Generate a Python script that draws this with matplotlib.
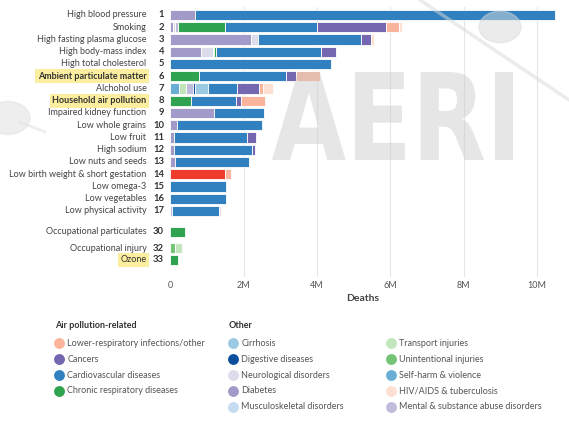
import matplotlib.pyplot as plt
import matplotlib.transforms as mtransforms
from matplotlib.lines import Line2D
from matplotlib.patches import Circle, PathPatch
from matplotlib.textpath import TextPath
from matplotlib.font_manager import FontProperties

plt.rcParams['font.family'] = ['Lato', 'DejaVu Sans']

# risk factors, top to bottom
risk_names = ['High blood pressure', 'Smoking', 'High fasting plasma glucose',
              'High body-mass index', 'High total cholesterol',
              'Ambient particulate matter', 'Alchohol use', 'Household air pollution',
              'Impaired kidney function', 'Low whole grains', 'Low fruit',
              'High sodium', 'Low nuts and seeds', 'Low birth weight & short gestation',
              'Low omega-3', 'Low vegetables', 'Low physical activity',
              'Occupational particulates', 'Occupational injury', 'Ozone']
risk_ranks = [1, 2, 3, 4, 5, 6, 7, 8, 9, 10, 11, 12, 13, 14, 15, 16, 17, 30, 32, 33]
highlighted = ['Ambient particulate matter', 'Household air pollution', 'Ozone']

# attributable deaths (millions) by cause, left to right in each bar
segments = [
    [('Diabetes', 0.67), ('Cardiovascular diseases', 9.81)],
    [('Diabetes', 0.07), ('Neurological disorders', 0.07), ('Mental & substance abuse disorders', 0.06),
     ('Chronic respiratory diseases', 1.30), ('Cardiovascular diseases', 2.50), ('Cancers', 1.89),
     ('Lower-respiratory infections/other', 0.33), ('HIV/AIDS & tuberculosis', 0.09)],
    [('Diabetes', 2.20), ('Neurological disorders', 0.19), ('Cardiovascular diseases', 2.82),
     ('Cancers', 0.27), ('HIV/AIDS & tuberculosis', 0.08)],
    [('Diabetes', 0.85), ('Neurological disorders', 0.32), ('Transport injuries', 0.03),
     ('Chronic respiratory diseases', 0.05), ('Cardiovascular diseases', 2.87), ('Cancers', 0.40)],
    [('Cardiovascular diseases', 4.39)],
    [('Chronic respiratory diseases', 0.78), ('Cardiovascular diseases', 2.38), ('Cancers', 0.27),
     ('Lower-respiratory infections/other', 0.65)],
    [('Self-harm & violence', 0.23), ('Transport injuries', 0.21), ('Mental & substance abuse disorders', 0.18),
     ('Digestive diseases', 0.05), ('Cirrhosis', 0.35), ('Cardiovascular diseases', 0.80), ('Cancers', 0.61),
     ('Lower-respiratory infections/other', 0.10), ('HIV/AIDS & tuberculosis', 0.28)],
    [('Chronic respiratory diseases', 0.57), ('Cardiovascular diseases', 1.21), ('Cancers', 0.16),
     ('Lower-respiratory infections/other', 0.64)],
    [('Diabetes', 1.18), ('Cardiovascular diseases', 1.37)],
    [('Diabetes', 0.17), ('Cardiovascular diseases', 2.32)],
    [('Diabetes', 0.11), ('Cardiovascular diseases', 1.99), ('Cancers', 0.24)],
    [('Diabetes', 0.10), ('Cardiovascular diseases', 2.12), ('Cancers', 0.08)],
    [('Diabetes', 0.13), ('Cardiovascular diseases', 2.01)],
    [('Neonatal disorders', 1.50), ('Lower-respiratory infections/other', 0.16)],
    [('Cardiovascular diseases', 1.52)],
    [('Cardiovascular diseases', 1.51)],
    [('Mental & substance abuse disorders', 0.04), ('Cardiovascular diseases', 1.29),
     ('Neurological disorders', 0.05)],
    [('Chronic respiratory diseases', 0.41)],
    [('Unintentional injuries', 0.12), ('Transport injuries', 0.21)],
    [('Chronic respiratory diseases', 0.22)],
]

legend_air = ['Lower-respiratory infections/other', 'Cancers', 'Cardiovascular diseases',
              'Chronic respiratory diseases']
legend_other1 = ['Cirrhosis', 'Digestive diseases', 'Neurological disorders', 'Diabetes',
                 'Musculoskeletal disorders']
legend_other2 = ['Transport injuries', 'Unintentional injuries', 'Self-harm & violence',
                 'HIV/AIDS & tuberculosis', 'Mental & substance abuse disorders']

colors = {
    'Lower-respiratory infections/other': '#fcb59c',
    'Cancers': '#7566b0',
    'Cardiovascular diseases': '#3181c0',
    'Chronic respiratory diseases': '#2fa350',
    'Cirrhosis': '#9ccae2',
    'Digestive diseases': '#0b4f9c',
    'Neurological disorders': '#dcdcec',
    'Diabetes': '#a29bc9',
    'Musculoskeletal disorders': '#c6dbef',
    'Transport injuries': '#c2e6bb',
    'Unintentional injuries': '#74c476',
    'Self-harm & violence': '#6aaed6',
    'HIV/AIDS & tuberculosis': '#fde0d2',
    'Mental & substance abuse disorders': '#bfbcdc',
    'Neonatal disorders': '#ef3b2c',
}

W, H = 569, 426
row_y = list(range(17)) + [17.7, 19.05, 20.0]


def fy(py):
    return 1 - py / H


fig = plt.figure(figsize=(W / 100, H / 100), dpi=100)
ax = fig.add_axes([170.3 / W, 1 - 277 / H, 385.3 / W, 270 / H])

for y, segs in zip(row_y, segments):
    left = 0
    for cause, v in segs:
        ax.barh(y, v, left=left, height=0.84, color=colors[cause],
                edgecolor='white', linewidth=0.6, zorder=2)
        left += v

ax.set_xlim(0, 10.5)
ax.set_ylim(21.39, -0.65)
for x in [2, 4, 6, 8, 10]:
    ax.axvline(x, color='#e6e6e6', lw=0.8, zorder=0)
ax.set_xticks([0, 2, 4, 6, 8, 10])
ax.set_xticklabels(['0', '2M', '4M', '6M', '8M', '10M'])
ax.tick_params(axis='x', length=0, labelsize=6.5, labelcolor='#555555', pad=3)
ax.set_yticks([])
for s in ax.spines.values():
    s.set_visible(False)
ax.set_xlabel('Deaths', fontsize=7.5, fontweight='bold', color='#444444', labelpad=3)

trans = mtransforms.blended_transform_factory(fig.transFigure, ax.transData)
for y, name, rank in zip(row_y, risk_names, risk_ranks):
    if name in highlighted:
        ax.text(146.5 / W, y, name, transform=trans, ha='right', va='center',
                fontsize=6.5, color='#333333',
                fontweight='normal' if name == 'Ozone' else 'bold',
                bbox=dict(boxstyle='square,pad=0.28', fc='#fcee9f', ec='none'))
    else:
        ax.text(146.5 / W, y, name, transform=trans, ha='right', va='center',
                fontsize=6.5, color='#444444')
    ax.text(164 / W, y, str(rank), transform=trans, ha='right', va='center',
            fontsize=6.8, fontweight='bold', color='#333333')

# legend
fig.text(55 / W, fy(325), 'Air pollution-related', fontsize=6.5, fontweight='bold',
         color='#333333', va='center')
fig.text(228.7 / W, fy(325), 'Other', fontsize=6.5, fontweight='bold',
         color='#333333', va='center')
for col_x, items in [(59.3, legend_air), (233.3, legend_other1), (391, legend_other2)]:
    for k, name in enumerate(items):
        py = 343.3 + 15.85 * k
        fig.add_artist(Line2D([col_x / W], [fy(py)], marker='o', markersize=6.8,
                              color=colors[name], transform=fig.transFigure))
        fig.text((col_x + 8) / W, fy(py), name, fontsize=6.5, color='#555555', va='center')

# faint logo watermark
tp = TextPath((0, 0), 'AERI', size=1, prop=FontProperties(family='DejaVu Sans', weight='bold'))
ext = tp.get_extents()
wm = (mtransforms.Affine2D().translate(-ext.x0, -ext.y0)
      .scale((241 / W) / ext.width, (88 / H) / ext.height)
      .translate(272 / W, fy(160)) + fig.transFigure)
fig.add_artist(PathPatch(tp, transform=wm, fc='#c8c8c8', ec='none', alpha=0.45, zorder=5))
fig.add_artist(Circle((500 / W, fy(27)), 21 / W, transform=fig.transFigure,
                      color='#d9d9d9', alpha=0.5, zorder=5))
fig.add_artist(Line2D([420 / W, 569 / W], [fy(0), fy(100)], color='#d9d9d9',
                      lw=2.5, alpha=0.5, transform=fig.transFigure, zorder=5))
fig.add_artist(Circle((8 / W, fy(118)), 22 / W, transform=fig.transFigure,
                      color='#e3e3e3', alpha=0.6, zorder=0))
fig.add_artist(Line2D([20 / W, 45 / W], [fy(122), fy(132)], color='#e3e3e3',
                      lw=2, alpha=0.6, transform=fig.transFigure, zorder=0))

fig.savefig('out.png', dpi=100)
